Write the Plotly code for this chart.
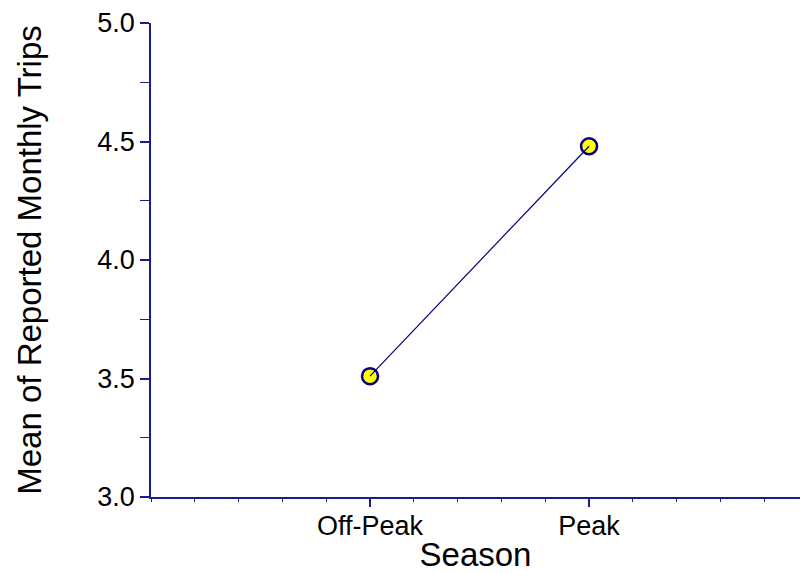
import plotly.graph_objects as go

seasons = ["Off-Peak", "Peak"]
season_pos = [0, 1]
mean_trips = [3.51, 4.48]

axis_color = "#1c1c8c"
font_family = "Liberation Sans, Arial, sans-serif"

fig = go.Figure()
# markers first, line on top (as in reference)
fig.add_trace(go.Scatter(
    x=season_pos, y=mean_trips, mode="markers",
    marker=dict(size=16, color="#ffff00", line=dict(color="#000080", width=2.5)),
    showlegend=False, hoverinfo="skip"))
fig.add_trace(go.Scatter(
    x=season_pos, y=mean_trips, mode="lines",
    line=dict(color="#000080", width=1.2),
    showlegend=False))

# y-axis line extension below the x axis
fig.add_shape(type="line", xref="x", yref="y", x0=-1, x1=-1, y0=3.0, y1=2.97,
              line=dict(color=axis_color, width=1.5))

fig.update_layout(
    width=802, height=573,
    margin=dict(l=151, r=2, t=23, b=76),
    paper_bgcolor="white", plot_bgcolor="white",
    font=dict(family=font_family, color="black"),
    xaxis=dict(
        range=[-1, 1.963], showgrid=False, zeroline=False,
        showline=True, linecolor=axis_color, linewidth=1.5,
        tickmode="array", tickvals=season_pos, ticktext=seasons,
        ticks="outside", ticklen=8, tickcolor=axis_color, tickwidth=1.5,
        tickfont=dict(size=27), ticklabelstandoff=-4,
        minor=dict(dtick=0.2, tick0=0, ticks="outside", ticklen=3,
                   tickcolor=axis_color, tickwidth=1.2, showgrid=False),
        title=dict(text="Season", font=dict(size=33), standoff=2),
    ),
    yaxis=dict(
        range=[3.0, 5.0], showgrid=False, zeroline=False,
        showline=True, linecolor=axis_color, linewidth=1.5,
        tickmode="linear", tick0=3.0, dtick=0.5, tickformat=".1f",
        ticks="outside", ticklen=9, tickcolor=axis_color, tickwidth=1.5,
        tickfont=dict(size=27),
        minor=dict(dtick=0.25, tick0=3.0, ticks="outside", ticklen=9,
                   tickcolor=axis_color, tickwidth=1.2, showgrid=False),
        title=dict(text="Mean of Reported Monthly Trips", font=dict(size=33), standoff=46),
    ),
)

fig.write_html("out.html")
